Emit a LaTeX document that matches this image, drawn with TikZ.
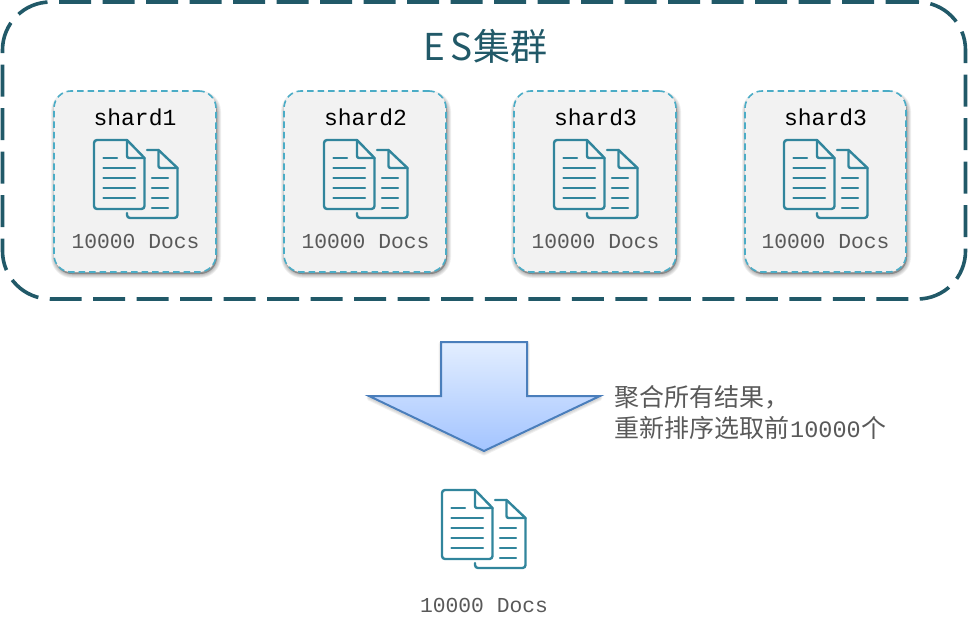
\documentclass[tikz,border=0pt]{standalone}
\usepackage{fontspec}
\setmainfont{Liberation Sans}
\setmonofont{Liberation Mono}
\newfontfamily\cjk{Noto Sans CJK SC}
\definecolor{frameC}{HTML}{215968}
\definecolor{cardB}{HTML}{4BACC6}
\definecolor{cardF}{HTML}{F2F2F2}
\definecolor{iconC}{HTML}{31859C}
\definecolor{arrowB}{HTML}{4A7EBB}
\definecolor{arrowT}{HTML}{E3EEFF}
\definecolor{arrowD}{HTML}{A3C4FF}
\definecolor{grayT}{HTML}{595959}
\newcommand{\softshadow}[5]{%
  \foreach \w in {0.5,2,3.5,5,6.5,8}
    \draw[black,fill=black,opacity=.055,line width=\w pt,rounded corners=#5] (#1,#2) rectangle (#3,#4);}
\tikzset{
  x=1pt,y=-1pt,
  framebox/.style={draw=frameC,line width=3.6pt,dash pattern=on 32pt off 11.5pt,rounded corners=48pt,
    minimum width=963pt,minimum height=297pt,inner sep=0pt},
  cardbox/.style={draw=cardB,fill=cardF,line width=1.6pt,dash pattern=on 6.5pt off 4pt,rounded corners=17pt,
    minimum width=162pt,minimum height=181pt,inner sep=0pt},
  shardlabel/.style={font=\ttfamily\fontsize{23}{26}\selectfont,text=black,inner sep=0pt},
  docslabel/.style={font=\ttfamily\fontsize{21.3}{25}\selectfont,text=grayT,inner sep=0pt},
  cjklabel/.style={anchor=west,inner sep=0pt,font=\cjk\fontsize{25}{28}\selectfont,text=grayT},
  docicon/.pic={
    \begin{scope}[draw=iconC,line width=2.4pt,line cap=round,line join=round]
      \draw[rounded corners=3pt] (33,0) -- (0,0) -- (0,69) -- (50.5,69) -- (50.5,18);
      \draw (33,0) -- (50.5,18);
      \draw[rounded corners=2pt] (33,0) -- (33,18) -- (50.5,18);
      \foreach \yy in {28,38,48,58} \draw (9.5,\yy) -- (41,\yy);
      \draw (9.5,18) -- (23,18);
      \draw (53,10) -- (64.5,10) -- (83.5,28);
      \draw[rounded corners=2pt] (64.5,10) -- (64.5,28) -- (83.5,28);
      \draw[rounded corners=3pt] (83.5,28) -- (83.5,78) -- (33,78) -- (33,73);
      \foreach \yy in {38,48,58,68} \draw (58,\yy) -- (74,\yy);
    \end{scope}
  },
}
\begin{document}
\begin{tikzpicture}
\useasboundingbox (0,0) rectangle (968,632);
% frame
\node[framebox] (cluster) at (484,150.5) {};
\node[font=\cjk\fontsize{37}{44}\selectfont,text=frameC,inner sep=0pt] (title) at (485.5,46) {E\kern4.5pt S\kern1pt 集群};
% cards
\softshadow{55}{94.5}{217}{274}{17}
\softshadow{285}{94.5}{447}{274}{17}
\softshadow{515}{94.5}{677}{274}{17}
\softshadow{746}{94.5}{907}{274}{17}
\node[cardbox] (c1) at (135,181.5) {};
\node[cardbox] (c2) at (365,181.5) {};
\node[cardbox] (c3) at (595,181.5) {};
\node[cardbox,minimum width=161pt] (c4) at (825.5,181.5) {};
\node[shardlabel] (s1) at (135,117.5) {shard1};
\node[shardlabel] (s2) at (365.5,117.5) {shard2};
\node[shardlabel] (s3) at (595.5,117.5) {shard3};
\node[shardlabel] (s4) at (825.5,117.5) {shard3};
\pic at (94,140) {docicon};
\pic at (324,140) {docicon};
\pic at (554,140) {docicon};
\pic at (784,140) {docicon};
\node[docslabel] (d1) at (135.5,241) {10000 Docs};
\node[docslabel] (d2) at (365.5,241) {10000 Docs};
\node[docslabel] (d3) at (595.5,241) {10000 Docs};
\node[docslabel] (d4) at (825.5,241) {10000 Docs};
% arrow
\foreach \w in {1,3,5}
  \draw[black,opacity=.06,line width=\w pt,line join=round] (441,344) -- (527,344) -- (527,398) -- (600,398) -- (484,453) -- (369,398) -- (441,398) -- cycle;
\path[draw=arrowB,line width=2pt,line join=miter,top color=arrowT,bottom color=arrowD]
  (441,342) -- (527,342) -- (527,396) -- (600,396) -- (484,451) -- (369,396) -- (441,396) -- cycle;
\node[cjklabel] (t1) at (614,397) {聚合所有结果，};
\node[cjklabel] (t2) at (614,428) {重新排序选取前\kern1pt{\ttfamily\fontsize{23.5}{28}\selectfont 10000}\kern1pt 个};
% result
\pic at (442,490) {docicon};
\node[docslabel] (d5) at (484,605) {10000 Docs};
\end{tikzpicture}
\end{document}
